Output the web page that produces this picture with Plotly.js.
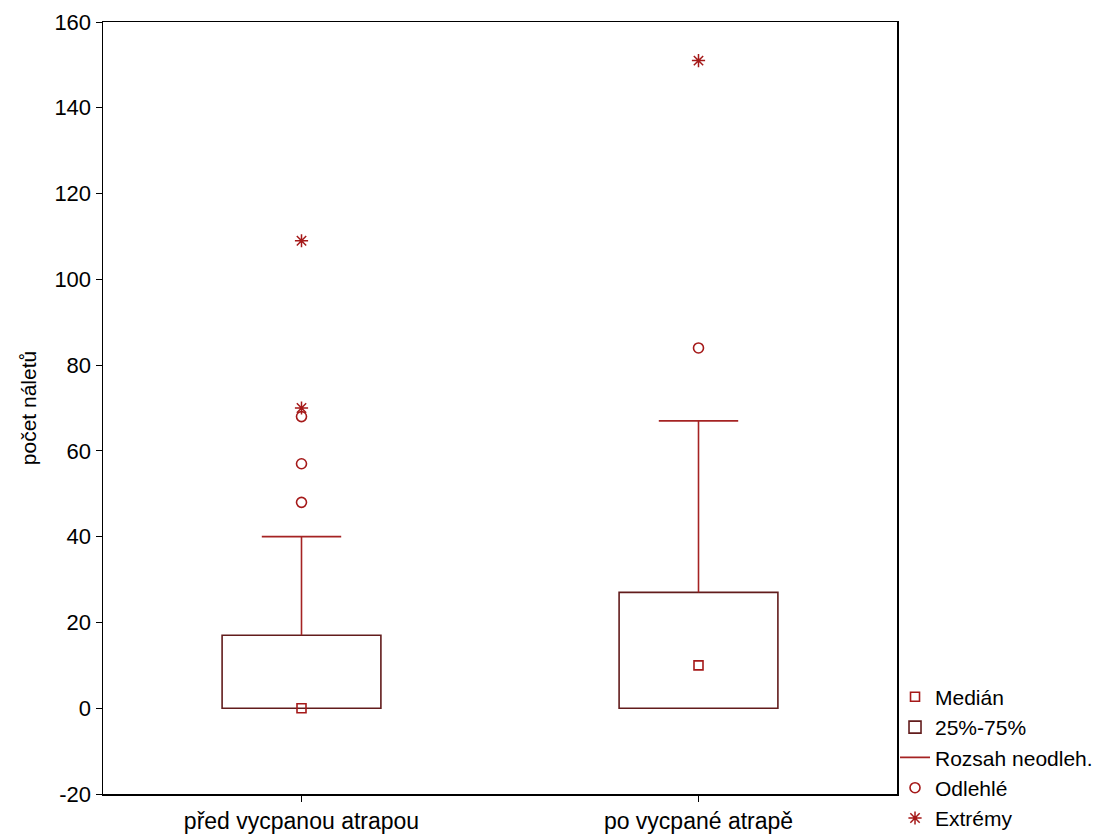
<!DOCTYPE html>
<html>
<head>
<meta charset="utf-8">
<script src="https://cdn.plot.ly/plotly-3.0.1.min.js"></script>
<style>html,body{margin:0;padding:0;background:#fff}#chart{width:1113px;height:836px}</style>
</head>
<body>
<div id="chart"></div>
<script>
// ---- data ----
const categories = ['před vycpanou atrapou', 'po vycpané atrapě'];
const medians = [0, 10];
const q1 = [0, 0];
const q3 = [17, 27];
const whiskerLow = [0, 0];
const whiskerHigh = [40, 67];
const outliers = [[48, 57, 68], [84]];
const extremes = [[70, 109], [151]];
const legendNames = ['Medián', '25%-75%', 'Rozsah neodleh.', 'Odlehlé', 'Extrémy'];
const yTicks = [-20, 0, 20, 40, 60, 80, 100, 120, 140, 160];
const yTickText = ['-20', '0', '20', '40', '60', '80', '100', '120', '140', '160'];

// ---- styles ----
const boxColor = 'rgb(98,28,28)';
const whiskColor = 'rgb(165,35,35)';
const markColor = 'rgb(165,25,25)';
const boxWidth = 0.4;
const capHalf = 0.1;
const pos = categories.map((c, i) => i);

// whisker paths (zero-length whiskers are not drawn)
const wx = [], wy = [];
pos.forEach((p, i) => {
  if (whiskerHigh[i] > q3[i]) {
    wx.push(p, p, null, p - capHalf, p + capHalf, null);
    wy.push(q3[i], whiskerHigh[i], null, whiskerHigh[i], whiskerHigh[i], null);
  }
  if (whiskerLow[i] < q1[i]) {
    wx.push(p, p, null, p - capHalf, p + capHalf, null);
    wy.push(q1[i], whiskerLow[i], null, whiskerLow[i], whiskerLow[i], null);
  }
});

const ox = [], oy = [], ex = [], ey = [];
pos.forEach((p, i) => {
  outliers[i].forEach(v => { ox.push(p); oy.push(v); });
  extremes[i].forEach(v => { ex.push(p); ey.push(v); });
});

const traces = [
  {
    type: 'bar', name: legendNames[1], x: pos, base: q1,
    y: q3.map((v, i) => v - q1[i]), width: boxWidth,
    marker: {color: 'rgba(0,0,0,0)', line: {color: boxColor, width: 1.6}},
    hoverinfo: 'skip', legendrank: 2
  },
  {
    type: 'scatter', mode: 'lines', name: legendNames[2], x: wx, y: wy,
    line: {color: whiskColor, width: 1.6}, connectgaps: false,
    hoverinfo: 'skip', legendrank: 3
  },
  {
    type: 'scatter', mode: 'markers', name: legendNames[0], x: pos, y: medians,
    marker: {symbol: 'square-open', size: 9, color: markColor, line: {width: 1.6}},
    legendrank: 1
  },
  {
    type: 'scatter', mode: 'markers', name: legendNames[3], x: ox, y: oy,
    marker: {symbol: 'circle-open', size: 10, color: markColor, line: {width: 1.6}},
    legendrank: 4
  },
  {
    type: 'scatter', mode: 'markers', name: legendNames[4], x: ex, y: ey,
    marker: {symbol: 'asterisk-open', size: 11, color: markColor, line: {width: 1.5, color: markColor}},
    legendrank: 5
  }
];

const fam = 'Arial, "Liberation Sans", sans-serif';

const layout = {
  width: 1113, height: 836,
  margin: {l: 103, r: 216, t: 22, b: 42, autoexpand: false},
  paper_bgcolor: '#fff', plot_bgcolor: '#fff',
  font: {family: fam, size: 22, color: '#000'},
  showlegend: true,
  barmode: 'overlay',
  xaxis: {
    range: [-0.5, 1.5], tickvals: pos, ticktext: categories, automargin: false,
    showgrid: false, zeroline: false, showline: true, mirror: true,
    linecolor: '#000', linewidth: 1.5, ticks: 'outside', ticklen: 6,
    tickcolor: '#000', tickfont: {family: fam, size: 23, color: '#000'}
  },
  yaxis: {
    range: [-20, 160], tickvals: yTicks, ticktext: yTickText, automargin: false,
    showgrid: false, zeroline: false, showline: true, mirror: true,
    linecolor: '#000', linewidth: 1.5, ticks: 'outside', ticklen: 6,
    tickcolor: '#000', tickfont: {family: fam, size: 22, color: '#000'},
    title: {text: 'počet náletů', font: {family: fam, size: 21, color: '#000'}, standoff: 12}
  },
  legend: {
    x: 0.9975, xanchor: 'left', y: 0.152, yanchor: 'top',
    bgcolor: 'rgba(0,0,0,0)', font: {family: fam, size: 21, color: '#000'},
    itemwidth: 30, tracegroupgap: 0
  }
};

Plotly.newPlot('chart', traces, layout, {staticPlot: true, displayModeBar: false});
</script>
</body>
</html>
